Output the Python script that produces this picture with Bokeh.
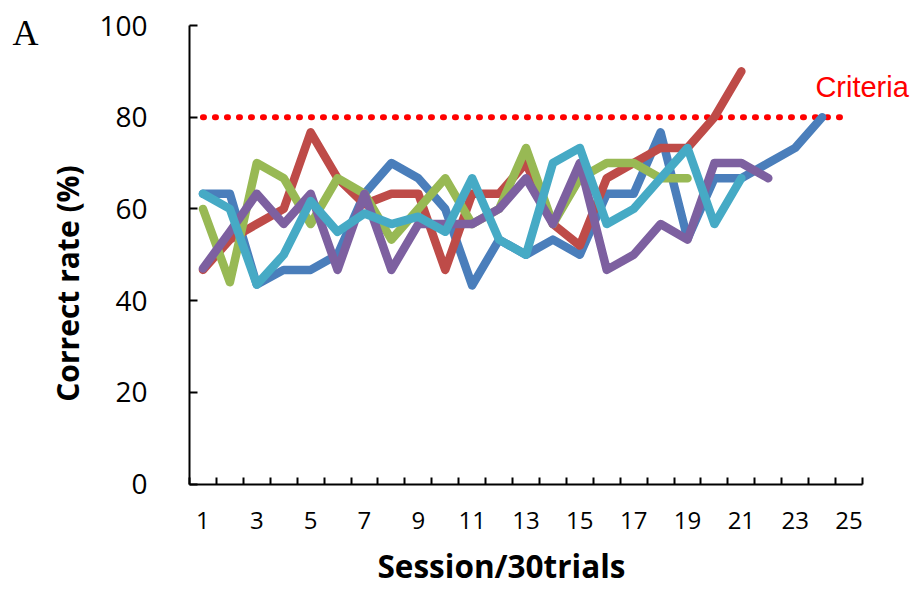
from bokeh.plotting import figure
from bokeh.models import Range1d, FixedTicker, Label
from bokeh.embed import file_html
from bokeh.resources import INLINE

# ---- data ----
blue_y = [63.3, 63.3, 43.5, 46.7, 46.7, 50, 63.3, 70, 66.7, 60, 43.3, 53.3, 50, 53.3, 50,
          63.3, 63.3, 76.7, 53.5, 66.7, 66.7, 70, 73.3, 80]
red_y = [46.7, 53.3, 56.7, 60, 76.7, 66.7, 61, 63.3, 63.3, 46.7, 63.3, 63.3, 70, 56.7, 52,
         66.7, 70, 73.3, 73.3, 80, 90]
green_y = [60, 44, 70, 66.7, 56.7, 66.7, 63.3, 53.3, 60, 66.7, 56.7, 60, 73.3, 56.7, 66.7,
           70, 70, 66.7, 66.7]
purple_y = [47, 55, 63.3, 56.7, 63.3, 46.7, 63.3, 46.7, 56.7, 56.7, 56.7, 60, 66.7, 56.7, 70,
            46.7, 50, 56.7, 53.3, 70, 70, 66.7]
cyan_y = [63.3, 60, 43.5, 50, 61.7, 55, 59, 56.7, 58.3, 55, 66.7, 53.3, 50, 70, 73.3,
          56.7, 60, 66.7, 73.3, 56.7, 66.7]
series = [
    (blue_y, "#4A7EBB"),
    (red_y, "#BE4B48"),
    (green_y, "#98B954"),
    (purple_y, "#7D60A0"),
    (cyan_y, "#46AAC5"),
]
n_sessions = 25
sessions = list(range(1, n_sessions + 1))
x_tick_labels = list(range(1, n_sessions + 1, 2))
y_ticks = [0, 20, 40, 60, 80, 100]
y_min, y_max = 0, 100
criteria = 80

# ---- layout geometry (pixels) ----
W, H = 917, 591
PL, PR, PT, PB = 189, 862, 25, 483.5   # plot-area edges on the canvas
x0, x1 = 0.5, n_sessions + 0.5
ux = (x1 - x0) / (PR - PL)
uy = (y_max - y_min) / (PB - PT)
x_range = Range1d(x0 - PL * ux, x1 + (W - PR) * ux)
y_range = Range1d(y_min - (H - PB) * uy, y_max + PT * uy)

p = figure(width=W, height=H, output_backend="svg", toolbar_location=None,
           x_range=x_range, y_range=y_range, min_border=0,
           min_border_left=0, min_border_right=0, min_border_top=0, min_border_bottom=0)
p.outline_line_color = None
p.grid.visible = False
p.background_fill_color = "white"
p.border_fill_color = "white"

# axes (fixed inside the full-canvas frame, bounded to the plot area)
xa = p.xaxis[0]
xa.fixed_location = y_min
xa.bounds = (x0, x1)
xa.ticker = FixedTicker(ticks=x_tick_labels, minor_ticks=[s - 0.5 for s in sessions] + [x1])
xa.axis_line_width = 2
xa.axis_line_color = "black"
xa.major_tick_line_color = None
xa.major_tick_in = 0
xa.major_tick_out = 0
xa.minor_tick_in = 7
xa.minor_tick_out = 0
xa.minor_tick_line_width = 2
xa.minor_tick_line_color = "black"
xa.major_label_text_font = "Open Sans"
xa.major_label_text_font_size = "24px"
xa.major_label_text_color = "black"
xa.major_label_standoff = 28

ya = p.yaxis[0]
ya.fixed_location = x0
ya.bounds = (y_min, y_max)
ya.ticker = FixedTicker(ticks=y_ticks)
ya.axis_line_width = 2
ya.axis_line_color = "black"
ya.major_tick_in = 8
ya.major_tick_out = 0
ya.major_tick_line_width = 2
ya.major_tick_line_color = "black"
ya.minor_tick_line_color = None
ya.major_label_text_font = "Open Sans"
ya.major_label_text_font_size = "28px"
ya.major_label_text_color = "black"
ya.major_label_standoff = 42

# criteria dotted line
p.line([sessions[0], sessions[-1]], [criteria, criteria], line_color="#FF0000",
       line_width=6, line_dash="1 11", line_cap="round")

# series lines
for ys, col in series:
    xs = sessions[:len(ys)]
    p.line(xs, ys, line_color=col, line_width=8.5, line_join="round", line_cap="round")

# texts (screen units: x from left, y from bottom of the canvas)
def sy(y_canvas):
    return H - y_canvas

p.add_layout(Label(x=23.75, y=86.6, text="Criteria", text_font="Liberation Sans",
                   text_font_size="29px", text_color="#FF0000", text_baseline="alphabetic"))
p.add_layout(Label(x=12, y=sy(32), x_units="screen", y_units="screen", text="A",
                   text_font="Liberation Serif", text_font_size="36px", text_color="black",
                   text_baseline="alphabetic"))
p.add_layout(Label(x=66.5, y=sy(283), x_units="screen", y_units="screen",
                   text="Correct rate (%)", angle=90, angle_units="deg",
                   text_font="Open Sans", text_font_style="bold", text_font_size="30px",
                   text_color="black", text_align="center", text_baseline="alphabetic"))
p.add_layout(Label(x=501, y=sy(565), x_units="screen", y_units="screen",
                   text="Session/30trials",
                   text_font="Open Sans", text_font_style="bold", text_font_size="31.5px",
                   text_color="black", text_align="center", text_baseline="alphabetic"))

open("out.html", "w").write(file_html(p, INLINE))
